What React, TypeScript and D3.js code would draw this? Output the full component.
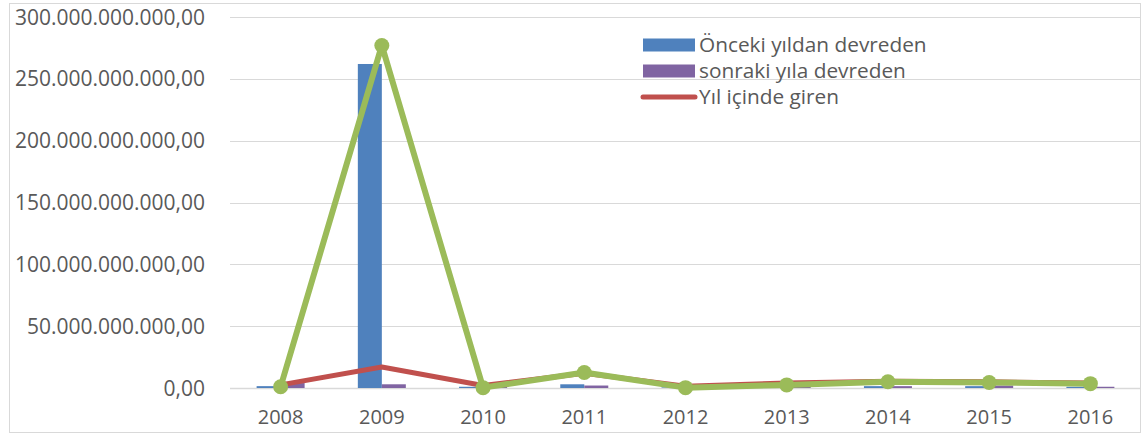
import React from "react";
import * as d3 from "d3";

const years = ["2008", "2009", "2010", "2011", "2012", "2013", "2014", "2015", "2016"];
const onceki = [1.5e9, 262e9, 1e9, 3e9, 0.5e9, 1e9, 1.5e9, 1.5e9, 1e9];
const sonraki = [4e9, 3e9, 1e9, 2e9, 0.5e9, 1e9, 1.5e9, 2e9, 1e9];
const giren = [2.5e9, 17e9, 2e9, 12e9, 1.5e9, 4e9, 5.5e9, 5e9, 4e9];
const cikan = [1e9, 277e9, 0.3e9, 12.5e9, 0.3e9, 2.5e9, 5e9, 4.5e9, 3.5e9];
const yTicks = [0, 50e9, 100e9, 150e9, 200e9, 250e9, 300e9];
const legendLabels = ["Önceki yıldan devreden", "sonraki yıla devreden", "Yıl içinde giren"];

const W = 1141, H = 436;
const FONT = "'Open Sans', sans-serif";
const TXT = "#595959";

const fmt = (v: number) => {
  const s = d3.format(",.2f")(v);
  return s.replace(/,/g, "#").replace(/\./g, ",").replace(/#/g, ".");
};

export default function App() {
  const x = d3.scaleBand<string>().domain(years).range([230, 1141]);
  const y = d3.scaleLinear().domain([0, 300e9]).range([388, 17]);
  const bw = 24;
  const line = d3.line<number>().x((_, i) => x(years[i])! + x.bandwidth() / 2).y((d) => y(d));
  const colors = ["#4f81bd", "#8064a2", "#c0504d"];
  return (
    <svg width={W} height={H} style={{ position: "absolute", left: 0, top: 0, background: "#fff" }}>
      <rect x={9.5} y={3.5} width={1131} height={429} fill="#fff" stroke="#d9d9d9" />
      {yTicks.map((t) => (
        <g key={t}>
          <line x1={230} x2={1140} y1={Math.round(y(t)) + 0.5} y2={Math.round(y(t)) + 0.5} stroke="#d9d9d9" strokeWidth={t === 0 ? 1.5 : 1} />
          <text x={205} y={y(t)} dy="0.36em" textAnchor="end" fontFamily={FONT} fontSize={21} fill={TXT}>
            {fmt(t)}
          </text>
        </g>
      ))}
      {years.map((yr, i) => {
        const cx = x(yr)! + x.bandwidth() / 2;
        return (
          <g key={yr}>
            <rect x={cx - bw} y={y(onceki[i])} width={bw} height={y(0) - y(onceki[i])} fill={colors[0]} />
            <rect x={cx} y={y(sonraki[i])} width={bw} height={y(0) - y(sonraki[i])} fill={colors[1]} />
            <text x={cx} y={424} textAnchor="middle" fontFamily={FONT} fontSize={20} fill={TXT}>
              {yr}
            </text>
          </g>
        );
      })}
      <path d={line(giren)!} fill="none" stroke={colors[2]} strokeWidth={5} strokeLinejoin="round" />
      <path d={line(cikan)!} fill="none" stroke="#9bbb59" strokeWidth={6} strokeLinejoin="round" />
      {cikan.map((v, i) => (
        <circle key={i} cx={x(years[i])! + x.bandwidth() / 2} cy={y(v)} r={7.5} fill="#9bbb59" />
      ))}
      {legendLabels.map((l, i) => {
        const cy = 45 + i * 26;
        return (
          <g key={l}>
            {i < 2 ? (
              <rect x={643} y={cy - 6.5} width={52} height={13} fill={colors[i]} />
            ) : (
              <line x1={643} x2={695} y1={cy} y2={cy} stroke={colors[i]} strokeWidth={5} strokeLinecap="round" />
            )}
            <text x={699} y={cy} dy="0.36em" fontFamily={FONT} fontSize={20.8} fill={TXT}>
              {l}
            </text>
          </g>
        );
      })}
    </svg>
  );
}
